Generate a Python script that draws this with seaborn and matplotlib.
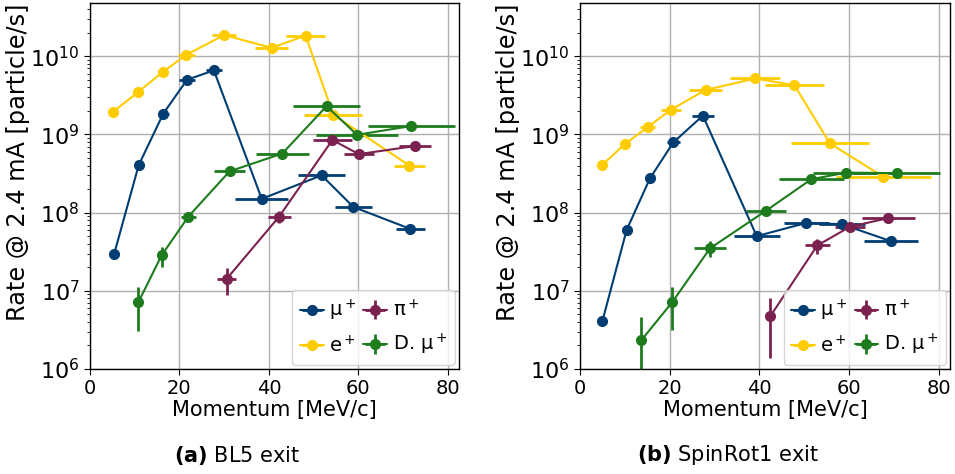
import numpy as np
import matplotlib
matplotlib.use("Agg")
import matplotlib.pyplot as plt
import seaborn as sns

# --- BL5 exit (a) ---
a_mu_p = [5.4, 10.9, 16.4, 21.7, 27.7, 38.4, 51.8, 58.9, 71.6]
a_mu_r = [2.95e7, 4.05e8, 1.85e9, 5.0e9, 6.6e9, 1.5e8, 3.0e8, 1.18e8, 6.2e7]
a_mu_dp = [0.3, 0.5, 1.3, 1.8, 1.75, 5.9, 5.3, 4.2, 3.2]

a_e_p = [5.2, 10.8, 16.3, 21.5, 30.0, 40.6, 48.2, 54.4, 71.4]
a_e_r = [1.95e9, 3.5e9, 6.3e9, 1.04e10, 1.87e10, 1.28e10, 1.84e10, 1.78e9, 4.0e8]
a_e_dp = [0.3, 0.5, 1.0, 1.9, 2.7, 3.7, 4.4, 6.5, 3.5]

a_pi_p = [30.6, 42.3, 54.2, 60.1, 72.6]
a_pi_r = [1.43e7, 8.9e7, 8.5e8, 5.6e8, 7.1e8]
a_pi_dp = [2.1, 2.6, 4.3, 3.4, 3.6]
a_pi_dr = [5.5e6, 1.5e7, 0, 0, 0]

a_dmu_p = [10.8, 16.0, 22.0, 31.2, 43.0, 52.9, 59.7, 71.8]
a_dmu_r = [7.1e6, 2.83e7, 8.9e7, 3.37e8, 5.7e8, 2.3e9, 9.9e8, 1.28e9]
a_dmu_dp = [0.4, 0.6, 1.7, 3.5, 5.9, 7.5, 9.2, 9.7]
a_dmu_dr = [4.0e6, 8.0e6, 0, 0, 0, 0, 0, 0]

# --- SpinRot1 exit (b) ---
b_mu_p = [5.0, 10.4, 15.6, 20.8, 27.4, 39.4, 50.5, 58.4, 69.4]
b_mu_r = [4.1e6, 6.0e7, 2.74e8, 7.9e8, 1.74e9, 5.0e7, 7.4e7, 7.1e7, 4.3e7]
b_mu_dp = [0.3, 0.5, 0.9, 1.5, 2.5, 5.1, 5.0, 5.2, 6.0]

b_e_p = [5.0, 10.1, 15.1, 20.3, 28.0, 39.1, 47.8, 55.7, 67.6]
b_e_r = [4.1e8, 7.6e8, 1.24e9, 2.08e9, 3.7e9, 5.2e9, 4.27e9, 7.7e8, 2.88e8]
b_e_dp = [0.3, 0.5, 1.7, 2.3, 3.6, 5.6, 6.6, 8.7, 10.6]

b_pi_p = [42.4, 52.9, 60.2, 68.7]
b_pi_r = [4.7e6, 3.8e7, 6.6e7, 8.5e7]
b_pi_dp = [0.3, 2.8, 3.4, 5.9]
b_pi_dr = [3.3e6, 8e6, 0, 0]

b_dmu_p = [13.7, 20.6, 29.0, 41.5, 51.6, 59.4, 70.6]
b_dmu_r = [2.34e6, 7.2e6, 3.5e7, 1.06e8, 2.68e8, 3.25e8, 3.2e8]
b_dmu_dp = [0.3, 0.5, 3.5, 4.5, 7.3, 7.5, 9.6]
b_dmu_dr = [2.3e6, 4.0e6, 8e6, 0, 0, 0, 0]

labels = ["μ$^+$", "e$^+$", "π$^+$", "D. μ$^+$"]
colors = ["#003d73", "#ffcc00", "#7b2150", "#1e7b1e"]
captions = [r"$\bf{(a)}$ BL5 exit", r"$\bf{(b)}$ SpinRot1 exit"]
caption_x = [0.248, 0.762]

sns.set_style("ticks")
plt.rcParams["font.family"] = ["DejaVu Sans"]
plt.rcParams["font.size"] = 14
for k in ["text.color", "axes.labelcolor", "xtick.color", "ytick.color"]:
    plt.rcParams[k] = "black"

fig = plt.figure(figsize=(9.55, 4.74), dpi=100)
ax1 = fig.add_axes([0.0942, 0.2215, 0.3864, 0.7722])
ax2 = fig.add_axes([0.6073, 0.2215, 0.3875, 0.7722])

panels = [
    (ax1, [(a_mu_p, a_mu_r, a_mu_dp, None), (a_e_p, a_e_r, a_e_dp, None),
           (a_pi_p, a_pi_r, a_pi_dp, a_pi_dr), (a_dmu_p, a_dmu_r, a_dmu_dp, a_dmu_dr)]),
    (ax2, [(b_mu_p, b_mu_r, b_mu_dp, None), (b_e_p, b_e_r, b_e_dp, None),
           (b_pi_p, b_pi_r, b_pi_dp, b_pi_dr), (b_dmu_p, b_dmu_r, b_dmu_dp, b_dmu_dr)]),
]

for (ax, series), cap, cx in zip(panels, captions, caption_x):
    handles = []
    for (p, r, dp, dr), lab, col in zip(series, labels, colors):
        h = ax.errorbar(p, r, xerr=dp, yerr=dr, fmt="o-", color=col, ms=7,
                        lw=1.5, elinewidth=2, capsize=0, label=lab)
        handles.append(h)
    ax.set_yscale("log")
    ax.set_xlim(0, 82.5)
    ax.set_ylim(1e6, 4.8e10)
    ax.set_xticks([0, 20, 40, 60, 80])
    ax.grid(True, which="major", color="#b0b0b0", lw=1)
    for s in ax.spines.values():
        s.set_color("black")
        s.set_linewidth(1)
    ax.tick_params(axis="x", which="major", labelsize=14, direction="out",
                   length=4, color="black")
    ax.tick_params(axis="y", which="major", labelsize=16, direction="out",
                   length=4, color="black")
    ax.tick_params(axis="y", which="minor", length=2, color="black")
    ax.set_xlabel("Momentum [MeV/c]", fontsize=15, labelpad=1)
    ax.set_ylabel("Rate @ 2.4 mA [particle/s]", fontsize=17.3)
    ax.yaxis.set_label_coords(-0.163, 0.565)
    ax.legend(handles, labels, ncol=2,
              loc="lower right", fontsize=14, handlelength=1.2,
              columnspacing=0.35, handletextpad=0.3, borderpad=0.4,
              labelspacing=0.6, framealpha=0.8, borderaxespad=0.2)
    fig.text(cx, 0.04, cap, ha="center", va="center", fontsize=15)

fig.savefig("out.png", dpi=100)
